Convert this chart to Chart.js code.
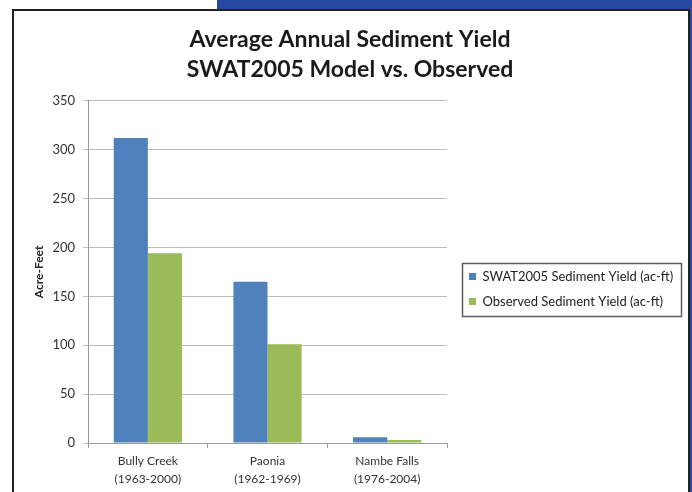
<!DOCTYPE html>
<html>
<head>
<meta charset="utf-8">
<script src="https://cdn.jsdelivr.net/npm/chart.js@4/dist/chart.umd.min.js"></script>
<style>
  html, body { margin: 0; padding: 0; }
  body { width: 692px; height: 492px; position: relative; overflow: hidden; background: #ffffff; }
  #band { position: absolute; left: 217px; top: 0; width: 475px; height: 10px; background: #2647a2; }
  #rstrip { position: absolute; left: 689px; top: 0; width: 3px; height: 492px; background: #2647a2; }
  #panel { position: absolute; left: 12px; top: 9px; width: 674px; height: 500px; border: 2px solid #222; border-bottom: none; background: #ffffff; }
  #c { position: absolute; left: 0; top: 0; }
</style>
</head>
<body>
<div id="band"></div>
<div id="rstrip"></div>
<div id="panel"></div>
<canvas id="c" width="692" height="492"></canvas>
<script>
const categories = [["Bully Creek", "(1963-2000)"], ["Paonia", "(1962-1969)"], ["Nambe Falls", "(1976-2004)"]];
const swatYield = [312, 165, 6];
const observedYield = [194, 101, 3];
const seriesNames = ["SWAT2005 Sediment Yield (ac-ft)", "Observed Sediment Yield (ac-ft)"];
const titleLines = ["Average Annual Sediment Yield", "SWAT2005 Model vs. Observed"];
const yAxisTitle = "Acre-Feet";
const yMin = 0, yMax = 350, yStep = 50;

const FONT = "Lato, 'Open Sans', sans-serif";
const LEGEND_SPACE = 221;   // room reserved right of the plot for the legend
const LEGEND_INSET = 22;    // gap between plot edge and first legend swatch
const LEGEND_DROP = 17;     // vertical offset of legend block

const legendFrame = {
  id: 'legendFrame',
  afterInit(chart) {
    const lg = chart.legend;
    if (!lg) return;
    const origFit = lg.fit;
    lg.fit = function () {
      this.maxWidth = Math.max(this.maxWidth, LEGEND_SPACE);
      origFit.call(this);
      this.width = LEGEND_SPACE;
    };
  },
  afterLayout(chart) {
    const lg = chart.legend;
    if (!lg) return;
    const pad = lg.options.labels.padding;
    const dx = chart.chartArea.right + LEGEND_INSET - (lg.left + pad);
    lg.left += dx; lg.right += dx;
    lg.top += LEGEND_DROP; lg.bottom += LEGEND_DROP;
  },
  afterDraw(chart) {
    const lg = chart.legend;
    if (!lg || !lg.legendHitBoxes || !lg.legendHitBoxes.length) return;
    const hb = lg.legendHitBoxes;
    let l = Infinity, t = Infinity, r = -Infinity, b = -Infinity;
    hb.forEach(h => {
      l = Math.min(l, h.left); t = Math.min(t, h.top);
      r = Math.max(r, h.left + h.width); b = Math.max(b, h.top + h.height);
    });
    const ctx = chart.ctx;
    ctx.save();
    ctx.strokeStyle = '#5e5e5e';
    ctx.lineWidth = 1.5;
    ctx.strokeRect(Math.round(l - 7) + 0.5, Math.round(t - 7) + 0.5, Math.round(r - l + 15), Math.round(b - t + 15));
    ctx.restore();
  }
};

new Chart(document.getElementById('c'), {
  type: 'bar',
  data: {
    labels: categories,
    datasets: [
      { label: seriesNames[0], data: swatYield, backgroundColor: '#4f81bd', borderWidth: 0 },
      { label: seriesNames[1], data: observedYield, backgroundColor: '#9bbb59', borderWidth: 0 }
    ]
  },
  options: {
    responsive: false,
    devicePixelRatio: 1,
    animation: false,
    categoryPercentage: 0.57,
    barPercentage: 1.0,
    layout: { padding: { left: 32, right: 24, top: 11, bottom: 0 } },
    plugins: {
      title: {
        display: true,
        text: titleLines,
        color: '#1a1a1a',
        font: { family: FONT, size: 23, weight: 'bold', lineHeight: 1.3 },
        padding: { top: 14, bottom: 16 }
      },
      legend: {
        position: 'right',
        fullSize: false,
        labels: {
          boxWidth: 7, boxHeight: 7, padding: 12,
          color: '#222', font: { family: FONT, size: 13 }
        }
      },
      tooltip: { enabled: false }
    },
    scales: {
      x: {
        grid: { drawOnChartArea: false, drawTicks: true, tickLength: 5, color: '#9a9a9a' },
        border: { color: '#9a9a9a', width: 1 },
        ticks: { color: '#333', font: { family: FONT, size: 12, lineHeight: 1.5 }, padding: 4, maxRotation: 0 }
      },
      y: {
        min: yMin, max: yMax,
        grid: { color: '#bdbdbd', tickLength: 5 },
        border: { color: '#9a9a9a', width: 1 },
        ticks: { stepSize: yStep, color: '#333', font: { family: FONT, size: 13 }, padding: 8 },
        title: { display: true, text: yAxisTitle, color: '#222', font: { family: FONT, size: 12, weight: 'bold' }, padding: { top: 0, bottom: -2 } }
      }
    }
  },
  plugins: [legendFrame]
});
</script>
</body>
</html>
